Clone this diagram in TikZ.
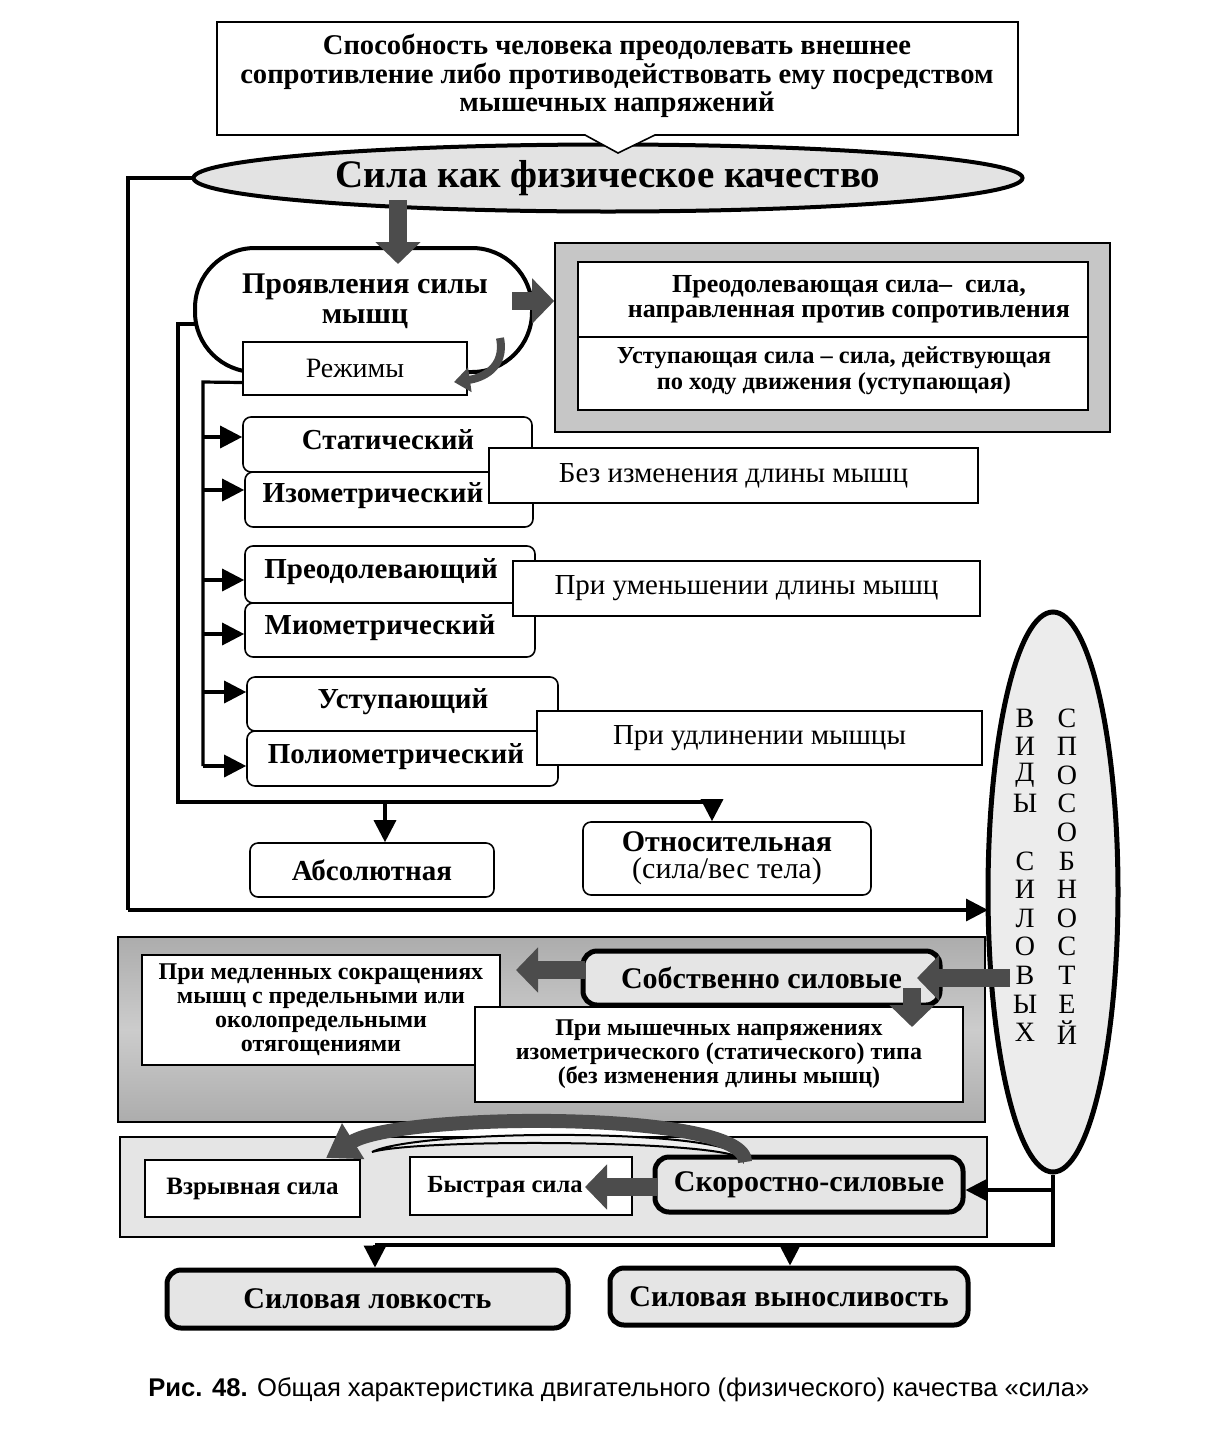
\documentclass[tikz,border=0pt]{standalone}
\usepackage{fontspec}
\setmainfont{Liberation Serif}
\setsansfont{Liberation Sans}
\usetikzlibrary{shapes.geometric,arrows.meta,calc}
\newcommand\myfs[2]{\fontsize{#1}{#2}\selectfont}
\newcommand\fMode{\myfs{14.5}{16}\bfseries}
\newcommand\fExp{\myfs{14.5}{16}}
\begin{document}
\begin{tikzpicture}[x=0.5pt,y=-0.5pt,
  box/.style={draw, line width=0.8pt, fill=white, inner sep=0pt},
  modebox/.style={box, rounded corners=4pt},
  heavybox/.style={draw, line width=2.5pt, rounded corners=7pt, fill=gray!20, inner sep=0pt},
  blk/.style={line width=9pt, draw=black!70, -{Triangle[width=22pt,length=11pt]}},
  arr/.style={line width=1.6pt, -{Triangle[width=11pt,length=11pt]}},
  ln/.style={line width=1.6pt},
  txt/.style={inner sep=0pt, align=center},
  letter/.style={font=\myfs{14}{14}, inner sep=0pt}]
\useasboundingbox[fill=white] (0,0) rectangle (1205,1441);

% ---------- title ellipse and definition callout
\draw[ln] (600,178) -- (128,178) -- (128,910);
\node[ellipse, draw, line width=2pt, fill=gray!22, minimum width=414.5pt, minimum height=33.5pt, inner sep=0pt,
      font=\myfs{19.5}{22}\bfseries] (title) at (608,178) {Сила как физическое качество};
\draw[fill=white, line width=0.8pt] (217,22) -- (1018,22) -- (1018,135) -- (655,135) -- (618,153) -- (585,135) -- (217,135) -- cycle;
\node[txt, font=\myfs{14.3}{14.3}\bfseries] (def) at (617,76)
  {Способность человека преодолевать внешнее\\сопротивление либо противодействовать ему посредством\\мышечных напряжений};

% ---------- outer left line to the vertical ellipse
\draw[arr] (128,910) -- (988,910);

% ---------- manifestations
\draw[ln] (200,324) -- (178,324) -- (178,802) -- (712,802);
\node[draw, line width=2pt, rounded corners=30pt, minimum width=168.5pt, minimum height=62pt, inner sep=0pt, fill=white] (prov) at (363.5,310) {};
\node[txt, font=\myfs{15}{15}\bfseries] (provT) at (365,301) {Проявления силы\\мышц};
\node[box, minimum width=112pt, minimum height=26.5pt, font=\myfs{14}{16}] (rez) at (355,368.5) {Режимы};

% right framed box
\node[draw, line width=0.8pt, fill=gray!45, minimum width=277.5pt, minimum height=94.5pt, inner sep=0pt] (rframe) at (832.5,337.5) {};
\node[box, minimum width=255pt, minimum height=74pt] (rin) at (833,336) {};
\draw[line width=0.8pt] (rin.west |- 0,337) -- (rin.east |- 0,337);
\node[txt, font=\myfs{13}{12.5}\bfseries] (preodT) at (849,299) {Преодолевающая сила–\ \ сила,\\направленная против сопротивления};
\node[txt, font=\myfs{12.2}{13}\bfseries] (ustT) at (834,371) {Уступающая сила – сила, действующая\\по ходу движения (уступающая)};

% ---------- regimes
\draw[ln] ([yshift=-7pt]rez.west) -- (203,382) -- (203,766);
\node[modebox, minimum width=144.5pt, minimum height=27.5pt] (stat) at (387.5,444.5) {};
\node[modebox, minimum width=144pt, minimum height=27.5pt] (izo) at (389,499.5) {};
\node[box, minimum width=244.5pt, minimum height=27.5pt, font=\fExp] (bez) at (733.5,475.5) {Без изменения длины мышц};
\node[modebox, minimum width=145pt, minimum height=28.5pt] (preod) at (390,574.5) {};
\node[modebox, minimum width=145pt, minimum height=27pt] (mio) at (390,630) {};
\node[box, minimum width=233.5pt, minimum height=27.5pt, font=\fExp] (umen) at (746.5,588.5) {При уменьшении длины мышц};
\node[modebox, minimum width=155.5pt, minimum height=27pt] (ustup) at (402.5,704) {};
\node[modebox, minimum width=155.5pt, minimum height=27.5pt] (poli) at (402.5,758.5) {};
\node[box, minimum width=222.5pt, minimum height=27pt, font=\fExp] (udl) at (759.5,738) {При удлинении мышцы};
\node[txt, font=\fMode] (statT) at (388,440) {Статический};
\node[txt, font=\fMode] (izoT) at (373,496) {Изометрический};
\node[txt, font=\fMode] (preodT2) at (381,572) {Преодолевающий};
\node[txt, font=\fMode] (mioT) at (380,628) {Миометрический};
\node[txt, font=\fMode] (ustupT) at (403,702) {Уступающий};
\node[txt, font=\fMode] (poliT) at (396,757) {Полиометрический};
\foreach \n/\y in {stat/437, izo/490, preod/580, mio/634, ustup/692, poli/766}
  \draw[arr] (203,\y) -- (\n.west |- 203,\y);

% absolute / relative
\node[modebox, minimum width=122pt, minimum height=27pt, font=\fMode] (absl) at (372,870) {Абсолютная};
\node[modebox, minimum width=144pt, minimum height=36.5pt, align=center, font=\myfs{15}{13.5}] (otn) at (727,858.5) {\textbf{Относительная}\\(сила/вес тела)};
\draw[arr] (385,802) -- (absl.north -| 385,0);
\draw[arr] (712,802) -- (otn.north -| 712,0);

% ---------- vertical ellipse
\node[ellipse, draw, line width=2.5pt, fill=gray!15, minimum width=65pt, minimum height=280pt, inner sep=0pt] (vid) at (1053,892) {};
\foreach \c [count=\i from 0] in {В,И,Д,Ы}
  \node[letter] (va\i) at (1025,{718+28.6*\i}) {\c};
\foreach \c [count=\i from 5] in {С,И,Л,О,В,Ы,Х}
  \node[letter] (va\i) at (1025,{718+28.6*\i}) {\c};
\foreach \c [count=\i from 0] in {С,П,О,С,О,Б,Н,О,С,Т,Е,Й}
  \node[letter] (vb\i) at (1067,{718+28.6*\i}) {\c};

% ---------- middle panel
\node[draw, line width=0.8pt, top color=gray!65, bottom color=gray!65, middle color=gray!40, minimum width=433.5pt, minimum height=92.5pt, inner sep=0pt] (mid) at (551.5,1029.5) {};
\node[box, minimum width=179pt, minimum height=55pt, align=center, font=\myfs{12}{12}\bfseries] (medl) at (321,1010)
  {При медленных сокращениях\\мышц с предельными или\\околопредельными\\отягощениями};
\node[heavybox, minimum width=178.5pt, minimum height=27pt, font=\myfs{15}{16}\bfseries] (sob) at (761.5,978) {Собственно силовые};
\node[box, minimum width=244pt, minimum height=47.5pt, align=center, font=\myfs{12}{12}\bfseries] (izm) at (719,1054.5)
  {При мышечных напряжениях\\изометрического (статического) типа\\(без изменения длины мышц)};
\draw[blk] (1010,978) -- (917,978);
\draw[blk] (585,970) -- (516,970);
\draw[blk] (912,988) -- (912,1027);

% ---------- lower panel
\node[draw, line width=0.8pt, fill=gray!20, minimum width=433.5pt, minimum height=50pt, inner sep=0pt] (low) at (553.5,1187) {};
\node[box, minimum width=107.5pt, minimum height=28.5pt, font=\myfs{12.5}{14}\bfseries] (vzr) at (252.5,1188.5) {Взрывная сила};
\node[box, minimum width=111pt, minimum height=29pt] (bys) at (521,1186) {};
\node[txt, font=\myfs{12.3}{14}\bfseries] (bysT) at (505,1187) {Быстрая сила};
\node[heavybox, minimum width=154pt, minimum height=27.5pt, font=\myfs{15}{16}\bfseries] (sko) at (809,1184.5) {Скоростно-силовые};
\draw[blk] (657,1187) -- (585,1187);
\draw[line width=1pt, fill=gray!12] (742,1160) .. controls (735,1140) and (420,1138) .. (372,1152) .. controls (420,1128) and (745,1128) .. cycle;
\draw[line width=7pt, black!70, -{Triangle[width=20pt,length=16pt]}] (745,1162) .. controls (748,1110) and (400,1112) .. (326,1158);

% ---------- bottom lines
\draw[ln] (vid.south) -- (1053,1245) -- (375,1245);
\draw[arr] (1053,1190) -- (sko.east |- 0,1190);
\node[heavybox, minimum width=200.5pt, minimum height=29pt, font=\myfs{15}{16}\bfseries] (lov) at (367.5,1299) {Силовая ловкость};
\node[heavybox, minimum width=179pt, minimum height=28.5pt, font=\myfs{15}{16}\bfseries] (vyn) at (789,1296.5) {Силовая выносливость};
\draw[arr] (375,1245) -- (lov.north -| 375,0);
\draw[arr] (790,1245) -- (vyn.north -| 790,0);

% ---------- block arrows at the top
\draw[blk] (398,200) -- (398,264);
\draw[blk] (512,301) -- (rframe.west |- 0,301);
\draw[line width=4pt, black!70, -{Triangle[width=12pt,length=8pt]}] (500,338) .. controls (506,368) and (482,378) .. (454,382);

% ---------- caption
\node[anchor=west, inner sep=0pt, font=\sffamily\myfs{12.8}{14}] (cap) at (148,1390)
  {\textbf{Рис. 48.} Общая характеристика двигательного (физического) качества «сила»};
\end{tikzpicture}
\end{document}
